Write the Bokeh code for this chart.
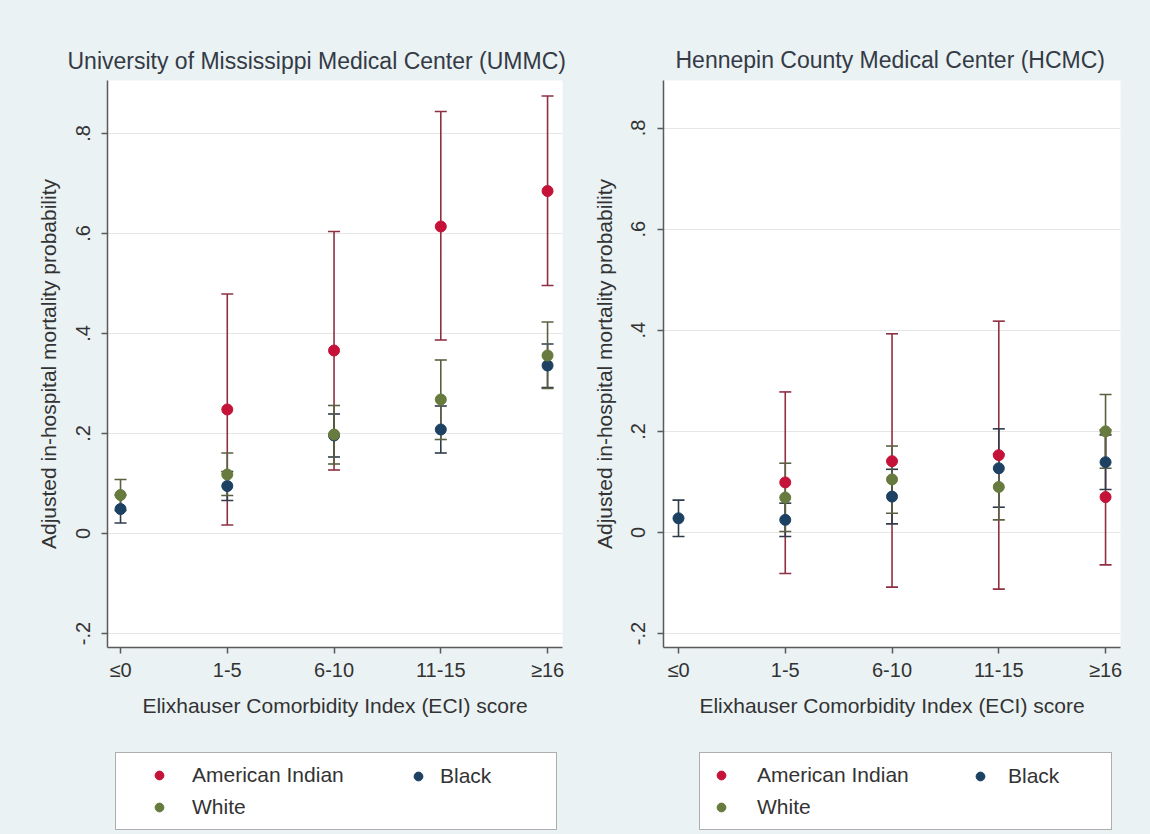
from bokeh.plotting import figure
from bokeh.models import (ColumnDataSource, Whisker, TeeHead, Legend, LegendItem,
                          FixedTicker, Range1d)
from bokeh.layouts import row, column
from bokeh.embed import file_html
from bokeh.resources import INLINE

# ---------------- data ----------------
categories = ["≤0", "1-5", "6-10", "11-15", "≥16"]
group_labels = ["American Indian", "Black", "White"]
y_ticks = [-0.2, 0.0, 0.2, 0.4, 0.6, 0.8]
y_tick_labels = ["-.2", "0", ".2", ".4", ".6", ".8"]

titles = ["University of Mississippi Medical Center (UMMC)",
          "Hennepin County Medical Center (HCMC)"]
x_title = "Elixhauser Comorbidity Index (ECI) score"
y_title = "Adjusted in-hospital mortality probability"

# UMMC
ummc_ai_mean = [None, 0.248, 0.366, 0.614, 0.685]
ummc_ai_lo = [None, 0.017, 0.127, 0.387, 0.496]
ummc_ai_hi = [None, 0.479, 0.604, 0.844, 0.875]
ummc_black_mean = [0.049, 0.095, 0.196, 0.208, 0.336]
ummc_black_lo = [0.021, 0.066, 0.153, 0.161, 0.292]
ummc_black_hi = [0.077, 0.124, 0.239, 0.255, 0.379]
ummc_white_mean = [0.077, 0.118, 0.198, 0.268, 0.356]
ummc_white_lo = [0.046, 0.076, 0.139, 0.188, 0.290]
ummc_white_hi = [0.108, 0.161, 0.256, 0.347, 0.423]

# HCMC
hcmc_ai_mean = [None, 0.099, 0.141, 0.153, 0.070]
hcmc_ai_lo = [None, -0.081, -0.108, -0.112, -0.064]
hcmc_ai_hi = [None, 0.278, 0.393, 0.418, 0.203]
hcmc_black_mean = [0.028, 0.025, 0.071, 0.127, 0.139]
hcmc_black_lo = [-0.008, -0.008, 0.017, 0.050, 0.085]
hcmc_black_hi = [0.064, 0.058, 0.125, 0.205, 0.193]
hcmc_white_mean = [None, 0.069, 0.105, 0.090, 0.200]
hcmc_white_lo = [None, 0.002, 0.038, 0.025, 0.127]
hcmc_white_hi = [None, 0.137, 0.171, 0.155, 0.273]

# ---------------- style ----------------
FONT = "Liberation Sans"
BG = "#eaf2f3"
TXT = "#333333"
AXC = "#5a5a5a"
point_colors = {"American Indian": "#c41239", "Black": "#1c4163", "White": "#667b3d"}
ci_colors = {"American Indian": "#8e2f42", "Black": "#2f3b4a", "White": "#5a6040"}

H_TOP = 740
H_LEG = 94


def make_panel(title, series, L):
    p = figure(width=L["w"], height=H_TOP, output_backend="svg", toolbar_location=None,
               x_range=Range1d(L["x0"], L["x1"]), y_range=Range1d(L["y0"], L["y1"]),
               min_border_left=L["bl"], min_border_right=L["br"],
               min_border_top=L["bt"], min_border_bottom=L["bb"], title=title)
    p.border_fill_color = BG
    p.background_fill_color = "white"
    p.outline_line_color = None

    p.title.text_font = FONT
    p.title.text_font_size = "23px"
    p.title.text_font_style = "normal"
    p.title.text_color = "#343a46"
    p.title.align = "left"
    p.title.offset = L["toff"]
    p.title.standoff = L["tso"]

    xa = p.xaxis[0]
    xa.ticker = FixedTicker(ticks=list(range(len(categories))))
    xa.major_label_overrides = {i: c for i, c in enumerate(categories)}
    xa.axis_label = x_title
    ya = p.yaxis[0]
    ya.ticker = FixedTicker(ticks=y_ticks)
    ya.major_label_overrides = {t: s for t, s in zip(y_ticks, y_tick_labels)}
    ya.axis_label = y_title
    ya.major_label_orientation = "vertical"
    for ax in (xa, ya):
        ax.axis_line_color = AXC
        ax.axis_line_width = 1.5
        ax.major_tick_line_color = AXC
        ax.major_tick_line_width = 1.5
        ax.major_tick_out = 6
        ax.major_tick_in = 0
        ax.minor_tick_line_color = None
        ax.major_label_text_font = FONT
        ax.major_label_text_font_size = "20px"
        ax.major_label_text_color = TXT
        ax.axis_label_text_font = FONT
        ax.axis_label_text_font_size = "21px"
        ax.axis_label_text_font_style = "normal"
        ax.axis_label_text_color = TXT
    xa.major_label_standoff = 5
    xa.axis_label_standoff = 10
    ya.major_label_standoff = 12
    ya.axis_label_standoff = 13

    p.xgrid.grid_line_color = None
    p.ygrid.grid_line_color = "#e6e6e6"
    p.ygrid.grid_line_width = 1.2

    sources = {}
    for name, mean, lo, hi in series:
        idx = [i for i, m in enumerate(mean) if m is not None]
        src = ColumnDataSource(dict(x=idx, y=[mean[i] for i in idx],
                                    lo=[lo[i] for i in idx], hi=[hi[i] for i in idx]))
        c = ci_colors[name]
        w = Whisker(source=src, base="x", lower="lo", upper="hi",
                    line_color=c, line_width=1.6, level="underlay",
                    upper_head=TeeHead(size=12, line_color=c, line_width=1.6),
                    lower_head=TeeHead(size=12, line_color=c, line_width=1.6))
        p.add_layout(w)
        sources[name] = src
    for name in ["American Indian", "Black", "White"]:
        p.scatter("x", "y", source=sources[name], size=11,
                  fill_color=point_colors[name], line_color=point_colors[name])
    return p, sources


def make_legend_fig(L, sources):
    # the legend strip below each panel; its view range lies away from the data,
    # so the proxy renderers only supply the legend glyphs
    f = figure(width=L["w"], height=H_LEG, output_backend="svg", toolbar_location=None,
               x_range=Range1d(-20, -19), y_range=Range1d(-20, -19),
               x_axis_location=None, y_axis_location=None,
               min_border=0, min_border_left=0, min_border_right=0,
               min_border_top=0, min_border_bottom=0)
    f.border_fill_color = BG
    f.background_fill_color = BG
    f.outline_line_color = None
    f.grid.visible = False
    rs = {}
    for name in group_labels:
        rs[name] = f.scatter("x", "y", source=sources[name], size=11,
                             fill_color=point_colors[name], line_color=point_colors[name])
    common = dict(orientation="vertical", padding=10, spacing=8, margin=0,
                  glyph_height=22, label_height=24,
                  label_text_font=FONT, label_text_font_size="21px", label_text_color=TXT)
    legA = Legend(items=[LegendItem(label=group_labels[0], renderers=[rs["American Indian"]]),
                         LegendItem(label=group_labels[2], renderers=[rs["White"]])],
                  location=L["legA_loc"], glyph_width=L["legA_gw"], label_standoff=L["legA_so"],
                  label_width=L["legA_lw"], border_line_color="#5e5e5e", border_line_width=1.5,
                  background_fill_color="white", background_fill_alpha=1.0, **common)
    legB = Legend(items=[LegendItem(label=group_labels[1], renderers=[rs["Black"]])],
                  location=L["legB_loc"], glyph_width=22, label_standoff=L["legB_so"],
                  border_line_alpha=0, background_fill_alpha=0, **common)
    f.add_layout(legA)
    f.add_layout(legB)
    return f


left_layout = dict(w=579, x0=-0.122, x1=4.14, y0=-0.228, y1=0.906,
                   bl=107, br=17, bt=80, bb=93, toff=-40, tso=13)
right_layout = dict(w=571, x0=-0.1405, x1=4.14, y0=-0.2275, y1=0.894,
                    bl=84, br=30, bt=75, bb=93, toff=12, tso=15)
left_leg = dict(w=579, legA_loc=(115, 4), legA_gw=66, legA_so=0, legA_lw=354,
                legB_loc=(397, 36), legB_so=11)
right_leg = dict(w=571, legA_loc=(120, 4), legA_gw=22, legA_so=25, legA_lw=344,
                 legB_loc=(380, 36), legB_so=17)

p1, s1 = make_panel(titles[0], [("American Indian", ummc_ai_mean, ummc_ai_lo, ummc_ai_hi),
                                ("Black", ummc_black_mean, ummc_black_lo, ummc_black_hi),
                                ("White", ummc_white_mean, ummc_white_lo, ummc_white_hi)], left_layout)
p2, s2 = make_panel(titles[1], [("American Indian", hcmc_ai_mean, hcmc_ai_lo, hcmc_ai_hi),
                                ("Black", hcmc_black_mean, hcmc_black_lo, hcmc_black_hi),
                                ("White", hcmc_white_mean, hcmc_white_lo, hcmc_white_hi)], right_layout)
l1 = make_legend_fig(left_leg, s1)
l2 = make_legend_fig(right_leg, s2)

bgstyle = {"background-color": BG}
layout = column(row(p1, p2, spacing=0, styles=bgstyle),
                row(l1, l2, spacing=0, styles=bgstyle),
                spacing=0, styles=bgstyle)
open("out.html", "w").write(file_html(layout, INLINE))
